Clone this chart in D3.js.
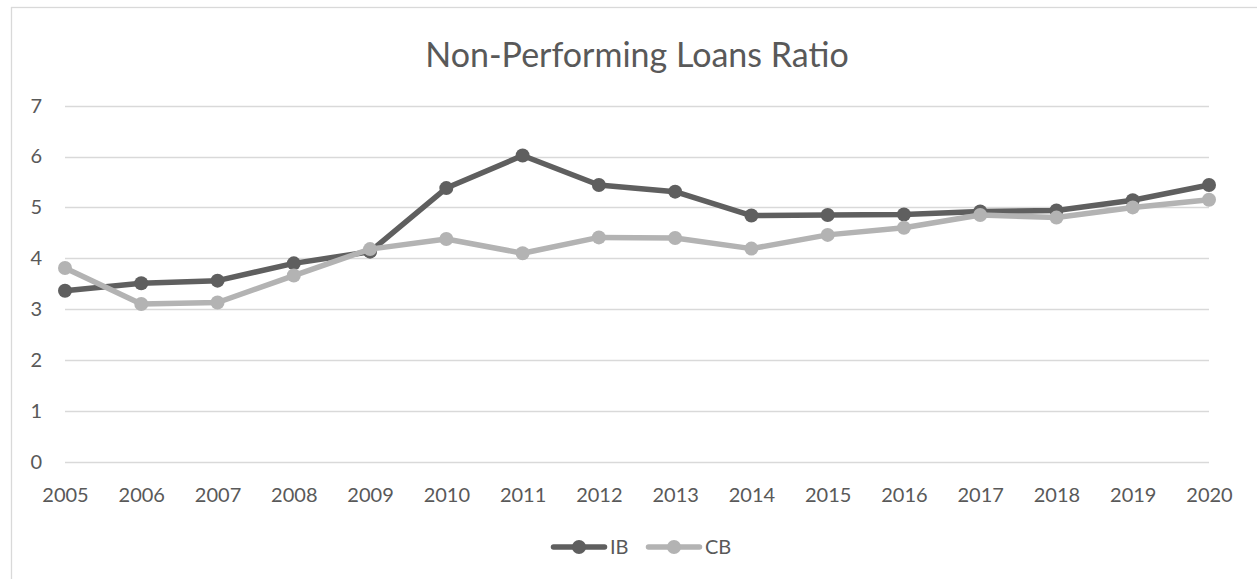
<!DOCTYPE html>
<html><head><meta charset="utf-8">
<script src="https://cdn.jsdelivr.net/npm/d3@7"></script>
<style>body{margin:0;background:#fff}svg{display:block}text{font-family:Lato,"Open Sans",sans-serif}</style>
</head><body><svg id="c" width="1257" height="579"></svg>
<script>
const years = ["2005","2006","2007","2008","2009","2010","2011","2012","2013","2014","2015","2016","2017","2018","2019","2020"];
const ib = [3.36,3.51,3.56,3.90,4.13,5.38,6.02,5.44,5.31,4.84,4.85,4.86,4.92,4.94,5.14,5.44];
const cb = [3.81,3.10,3.13,3.66,4.18,4.38,4.10,4.41,4.40,4.19,4.46,4.60,4.85,4.80,5.00,5.15];
const yTicks = [0,1,2,3,4,5,6,7];
const seriesNames = ["IB","CB"];
const seriesColors = ["#5f5f5f","#b3b3b3"];
const title = "Non-Performing Loans Ratio";

const svg = d3.select("#c");
svg.append("rect").attr("x",11.5).attr("y",7.5).attr("width",1260).attr("height",600)
  .attr("fill","#fff").attr("stroke","#d9d9d9").attr("stroke-width",1.3);

const x = d3.scalePoint().domain(years).range([65,1209]);
const y = d3.scaleLinear().domain([0,7]).range([461.7,105.7]);

// gridlines
svg.append("g").selectAll("line").data(yTicks).join("line")
  .attr("x1",65).attr("x2",1209)
  .attr("y1",d=>Math.round(y(d))+0.5).attr("y2",d=>Math.round(y(d))+0.5)
  .attr("stroke","#d9d9d9").attr("stroke-width",1.3);

// y axis labels
const ya = svg.append("g").attr("transform","translate(42,0)")
  .call(d3.axisLeft(y).tickValues(yTicks).tickSize(0).tickPadding(0).tickFormat(d3.format("d")));
ya.select(".domain").remove();
ya.selectAll("text").attr("font-size",20).attr("fill","#595959").attr("font-family","Lato,sans-serif");

// x axis labels
const xa = svg.append("g").attr("transform","translate(0,485)")
  .call(d3.axisBottom(x).tickSize(0).tickPadding(3));
xa.select(".domain").remove();
xa.selectAll("text").attr("font-size",20).attr("fill","#595959").attr("font-family","Lato,sans-serif");

// title
svg.append("text").attr("x",637).attr("y",67).attr("text-anchor","middle")
  .attr("font-size",34).attr("fill","#595959").text(title);

const data = [ib, cb];
const line = d3.line().x((d,i)=>x(years[i])).y(d=>y(d));
data.forEach((s,k)=>{
  const g = svg.append("g");
  g.append("path").datum(s).attr("d",line).attr("fill","none")
    .attr("stroke",seriesColors[k]).attr("stroke-width",5.5).attr("stroke-linejoin","round");
  g.selectAll("circle").data(s).join("circle")
    .attr("cx",(d,i)=>x(years[i])).attr("cy",d=>y(d)).attr("r",7)
    .attr("fill",seriesColors[k]);
});

// legend
const leg = svg.append("g").attr("transform","translate(0,547)");
const legX = [551, 646];
seriesNames.forEach((n,k)=>{
  const g = leg.append("g").attr("transform",`translate(${legX[k]},0)`);
  g.append("line").attr("x1",2.5).attr("x2",53.5).attr("y1",0).attr("y2",0)
    .attr("stroke",seriesColors[k]).attr("stroke-width",5.5).attr("stroke-linecap","round");
  g.append("circle").attr("cx",28).attr("cy",0).attr("r",7).attr("fill",seriesColors[k]);
  g.append("text").attr("x",59).attr("y",7).attr("font-size",20).attr("fill","#595959").text(n);
});
</script></body></html>
